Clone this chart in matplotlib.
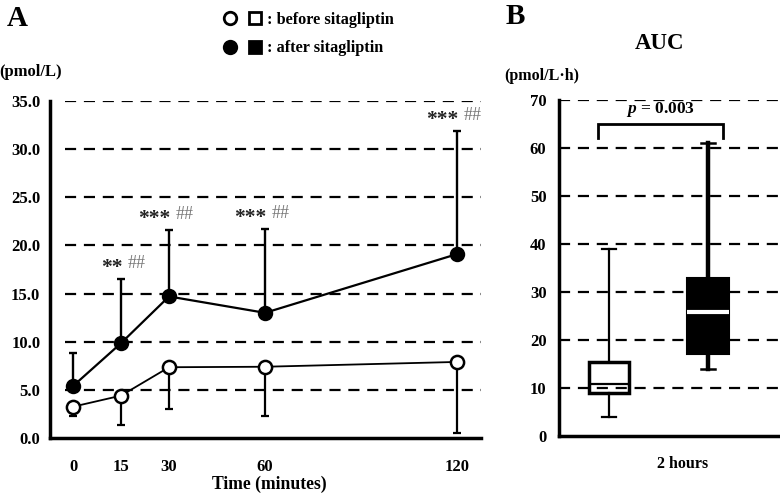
import matplotlib
matplotlib.use('Agg')
import matplotlib.pyplot as plt
from matplotlib.lines import Line2D
from matplotlib.legend_handler import HandlerTuple

plt.rcParams['font.family'] = ['Liberation Serif', 'DejaVu Serif']
plt.rcParams['font.weight'] = 'bold'
plt.rcParams['mathtext.fontset'] = 'custom'
plt.rcParams['mathtext.it'] = 'Liberation Serif:italic:bold'
plt.rcParams['mathtext.rm'] = 'Liberation Serif:bold'

# Panel A: time course (mean with one-sided SD)
time_min = [0, 15, 30, 60, 120]
before_mean = [3.25, 4.4, 7.35, 7.4, 7.9]
before_sd = [1.0, 3.05, 4.3, 5.15, 7.4]
after_mean = [5.4, 9.85, 14.7, 13.0, 19.1]
after_sd = [3.45, 6.65, 6.9, 8.7, 12.8]
stars = ['', '**', '***', '***', '***']
hashes = ['', '##', '##', '##', '##']
yticks_a = [0, 5, 10, 15, 20, 25, 30, 35]

# Panel B: AUC box plots
auc_before = dict(whislo=4.0, q1=9.0, med=10.8, q3=15.5, whishi=39.0)
auc_after = dict(whislo=14.0, q1=17.0, med=25.8, q3=33.0, whishi=61.0)
yticks_b = [0, 10, 20, 30, 40, 50, 60, 70]
p_text = '0.003'

fig = plt.figure(figsize=(7.8, 4.95), dpi=100)

# ---------- Panel A ----------
ax = fig.add_axes([50 / 780, 57 / 495, 431 / 780, 337 / 495])
ax.set_xlim(-7.2, 127.5)
ax.set_ylim(0, 35)
for y in yticks_a[1:]:
    ax.axhline(y, xmin=0.035, xmax=1.0, color='black', lw=1.6,
               ls=(0, (5, 3.5)), zorder=1)

ax.errorbar(time_min, after_mean, yerr=[[0] * 5, after_sd], fmt='none',
            ecolor='black', elinewidth=1.7, capsize=3, capthick=1.7, zorder=2)
ax.errorbar(time_min, before_mean, yerr=[before_sd, [0] * 5], fmt='none',
            ecolor='black', elinewidth=1.6, capsize=3, capthick=1.6, zorder=2)
ax.plot(time_min, after_mean, color='black', lw=1.6, marker='o', ms=9.5,
        mfc='black', mec='black', mew=1.6, zorder=3)
ax.plot(time_min, before_mean, color='black', lw=1.3, marker='o', ms=9.5,
        mfc='white', mec='black', mew=1.8, zorder=3)

# significance marks above the "after" error bars
for t, m, s, st, hs in zip(time_min, after_mean, after_sd, stars, hashes):
    if not st:
        continue
    top = m + s
    ax.annotate(st, (t, top), xytext=(1, 8), textcoords='offset points',
                ha='right', va='center', fontsize=15.5, fontweight='bold',
                color='#222222', annotation_clip=False)
    ax.annotate(hs, (t, top), xytext=(5, 11), textcoords='offset points',
                ha='left', va='center', fontsize=13, fontweight='normal',
                color='#777777', annotation_clip=False)

ax.set_xticks(time_min)
ax.set_xticklabels([str(t) for t in time_min])
ax.set_yticks(yticks_a)
ax.set_yticklabels([f'{v:.1f}' for v in yticks_a])
ax.tick_params(axis='x', length=0, pad=15, labelsize=12)
ax.tick_params(axis='y', length=0, pad=7, labelsize=12)
for lab in ax.get_xticklabels() + ax.get_yticklabels():
    lab.set_fontweight('bold')
for side in ['top', 'right']:
    ax.spines[side].set_visible(False)
for side in ['left', 'bottom']:
    ax.spines[side].set_linewidth(2.5)
ax.text(0.51, -0.139, 'Time (minutes)', transform=ax.transAxes,
        ha='center', va='center', fontsize=12.7, fontweight='bold')

# ---------- Panel B ----------
bx = fig.add_axes([559 / 780, 59 / 495, 221 / 780, 336 / 495])
bx.set_xlim(0.495, 2.727)
bx.set_ylim(0, 70)
for y in yticks_b[1:]:
    bx.axhline(y, xmin=0.0, xmax=1.0, color='black', lw=1.6,
               ls=(0, (5, 3.5)), zorder=1)

b1 = bx.bxp([auc_before], positions=[1], widths=0.41, showfliers=False,
            patch_artist=True, capwidths=[0.15],
            boxprops=dict(facecolor='none', edgecolor='black', lw=2.5),
            medianprops=dict(color='black', lw=1.6),
            whiskerprops=dict(color='black', lw=1.6),
            capprops=dict(color='black', lw=1.6))
b2 = bx.bxp([auc_after], positions=[2], widths=0.42, showfliers=False,
            patch_artist=True, capwidths=[0.15],
            boxprops=dict(facecolor='black', edgecolor='black', lw=1.5),
            medianprops=dict(color='white', lw=3),
            whiskerprops=dict(color='black', lw=3.2),
            capprops=dict(color='black', lw=1.8))
for art in b1['boxes'] + b2['boxes']:
    art.set_zorder(2)

# significance bracket
bl, br, btop, bleg = 0.89, 2.15, 65, 62
bx.plot([bl, bl, br, br], [bleg, btop, btop, bleg], color='black', lw=2,
        solid_joinstyle='miter', clip_on=False)
bx.text((bl + br) / 2, btop + 1.0, r'$p$' + f' = {p_text}',
        ha='center', va='bottom', fontsize=12.5, fontweight='bold')

bx.set_xticks([])
bx.set_yticks(yticks_b)
bx.tick_params(axis='y', length=0, pad=9, labelsize=12)
for lab in bx.get_yticklabels():
    lab.set_fontweight('bold')
for side in ['top', 'right']:
    bx.spines[side].set_visible(False)
for side in ['left', 'bottom']:
    bx.spines[side].set_linewidth(2.5)
bx.text(0.561, -0.083, '2 hours', transform=bx.transAxes,
        ha='center', va='center', fontsize=11.5, fontweight='bold')
bx.text(0.457, 1.167, 'AUC', transform=bx.transAxes,
        ha='center', va='center', fontsize=16.5, fontweight='bold')

# ---------- labels & legend ----------
fig.text(17 / 780, 1 - 18 / 495, 'A', ha='center', va='center',
         fontsize=21, fontweight='bold')
fig.text(515 / 780, 1 - 17 / 495, 'B', ha='center', va='center',
         fontsize=21, fontweight='bold')
fig.text(31 / 780, 1 - 72 / 495, '(pmol/L)', ha='center', va='center',
         fontsize=12, fontweight='bold')
fig.text(542 / 780, 1 - 76 / 495, '(pmol/L\u00b7h)', ha='center', va='center',
         fontsize=11.5, fontweight='bold')

mk = dict(ls='none', ms=9, mew=2, mec='black')
open_c = Line2D([], [], marker='o', mfc='white', **mk)
open_s = Line2D([], [], marker='s', mfc='white', **mk)
fill_c = Line2D([], [], marker='o', mfc='black', **mk)
fill_s = Line2D([], [], marker='s', mfc='black', **mk)
fig.legend([(open_c, open_s), (fill_c, fill_s)],
           [': before sitagliptin', ': after sitagliptin'],
           handler_map={tuple: HandlerTuple(ndivide=None, pad=0.6)},
           loc='upper left', bbox_to_anchor=(215 / 780, 1 - 4 / 495),
           frameon=False, handlelength=2.4, handletextpad=0.3,
           labelspacing=0.75, borderpad=0,
           prop=dict(family='Liberation Serif', weight='bold', size=11.7))

fig.savefig('out.png', dpi=100, facecolor='white')
